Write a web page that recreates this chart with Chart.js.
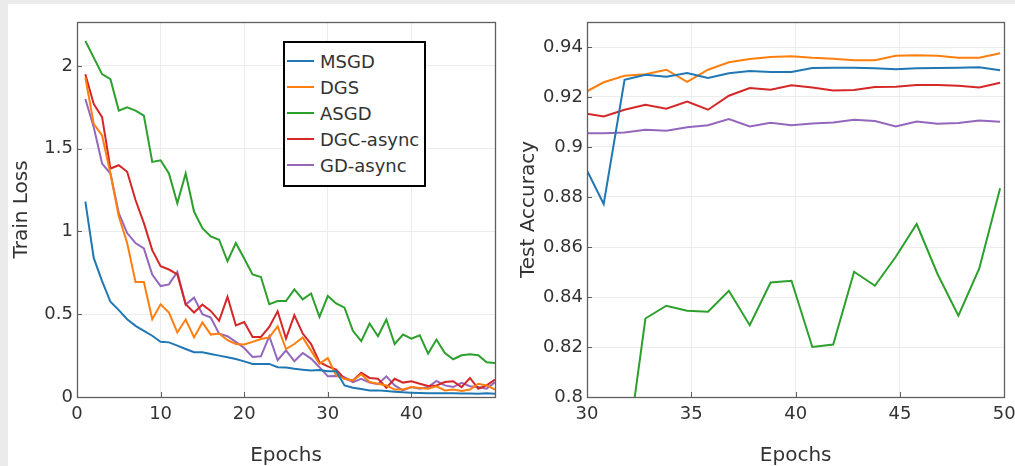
<!DOCTYPE html>
<html>
<head>
<meta charset="utf-8">
<script src="https://cdn.jsdelivr.net/npm/chart.js@4/dist/chart.umd.min.js"></script>
<style>
html,body{margin:0;padding:0;width:1015px;height:466px;overflow:hidden;background:#ebebec;}
#panel{position:absolute;left:8px;top:4px;width:1007px;height:462px;background:#fff;}
#w1{position:absolute;left:0;top:0;width:505px;height:466px;}
#w2{position:absolute;left:505px;top:0;width:540px;height:466px;}
#legend{position:absolute;left:283px;top:41px;width:139px;height:137px;border:2px solid #000;background:#fff;
  font-family:'DejaVu Sans',sans-serif;font-size:18px;color:#333;padding-top:5px;box-sizing:content-box;}
#legend .row{height:26px;display:flex;align-items:center;}
#legend .sw{width:27px;height:2px;margin-left:2px;margin-right:6px;}
</style>
</head>
<body>
<div id="panel"></div>
<div id="w1"><canvas id="c1" width="505" height="466"></canvas></div>
<div id="w2"><canvas id="c2" width="540" height="466"></canvas></div>
<div id="legend"></div>
<script>
// ---- data ----
const seriesNames = ['MSGD','DGS','ASGD','DGC-async','GD-async'];
const seriesColors = ['#1f77b4','#ff7f0e','#2ca02c','#d62728','#9467bd'];

const lossEpochs = [1,2,3,4,5,6,7,8,9,10,11,12,13,14,15,16,17,18,19,20,21,22,23,24,25,26,27,28,29,30,31,32,33,34,35,36,37,38,39,40,41,42,43,44,45,46,47,48,49,50];
const msgdLoss = [1.18,0.84,0.70,0.575,0.525,0.47,0.43,0.40,0.37,0.333,0.33,0.31,0.29,0.27,0.27,0.26,0.25,0.24,0.23,0.215,0.20,0.20,0.20,0.18,0.178,0.17,0.165,0.16,0.163,0.155,0.155,0.07,0.056,0.048,0.04,0.04,0.036,0.032,0.028,0.026,0.024,0.022,0.022,0.022,0.022,0.021,0.021,0.02,0.022,0.02];
const dgsLoss = [1.93,1.65,1.58,1.35,1.09,0.93,0.695,0.695,0.47,0.56,0.51,0.39,0.468,0.36,0.45,0.377,0.383,0.343,0.32,0.317,0.333,0.35,0.36,0.427,0.29,0.32,0.36,0.28,0.20,0.235,0.13,0.11,0.10,0.137,0.09,0.08,0.07,0.045,0.045,0.06,0.055,0.05,0.065,0.04,0.045,0.036,0.045,0.08,0.07,0.045];
const asgdLoss = [2.15,2.05,1.95,1.92,1.73,1.75,1.73,1.70,1.42,1.43,1.35,1.17,1.35,1.12,1.02,0.97,0.95,0.82,0.93,0.837,0.74,0.725,0.56,0.58,0.58,0.65,0.59,0.625,0.484,0.61,0.565,0.54,0.40,0.337,0.444,0.367,0.468,0.32,0.377,0.353,0.373,0.262,0.347,0.266,0.228,0.252,0.258,0.252,0.21,0.205];
const dgcLoss = [1.95,1.77,1.69,1.38,1.40,1.36,1.19,1.05,0.887,0.79,0.77,0.74,0.56,0.51,0.558,0.52,0.46,0.605,0.433,0.453,0.363,0.363,0.423,0.518,0.353,0.494,0.383,0.32,0.21,0.185,0.165,0.11,0.10,0.147,0.115,0.11,0.056,0.11,0.087,0.095,0.08,0.066,0.07,0.09,0.095,0.06,0.115,0.05,0.07,0.105];
const gdLoss = [1.80,1.63,1.41,1.35,1.11,0.99,0.93,0.897,0.74,0.67,0.68,0.756,0.558,0.6,0.5,0.48,0.383,0.367,0.333,0.296,0.242,0.246,0.367,0.222,0.282,0.216,0.266,0.232,0.18,0.125,0.127,0.12,0.09,0.11,0.087,0.077,0.125,0.07,0.04,0.06,0.05,0.06,0.097,0.07,0.06,0.085,0.065,0.06,0.05,0.09];

const accEpochs = [29.8,30.8,31.8,32.8,33.8,34.8,35.8,36.8,37.8,38.8,39.8,40.8,41.8,42.8,43.8,44.8,45.8,46.8,47.8,48.8,49.8];
const msgdAcc = [0.894,0.8772,0.9269,0.9289,0.9281,0.9296,0.9276,0.9295,0.9304,0.93,0.93,0.9316,0.9317,0.9317,0.9315,0.9311,0.9315,0.9316,0.9317,0.9319,0.9307];
const dgsAcc = [0.9214,0.9259,0.9285,0.9291,0.9309,0.9261,0.9309,0.9339,0.9352,0.936,0.9363,0.9357,0.9353,0.9347,0.9347,0.9365,0.9367,0.9365,0.9357,0.9357,0.9375];
const asgdAcc = [0.75,0.76,0.77,0.8314,0.8365,0.8345,0.8341,0.8425,0.8287,0.8458,0.8465,0.82,0.821,0.8501,0.8445,0.8561,0.8692,0.8492,0.8325,0.8514,0.8835];
const dgcAcc = [0.9136,0.9122,0.9149,0.9169,0.9153,0.9182,0.9149,0.9205,0.9236,0.9229,0.9247,0.9238,0.9226,0.9228,0.924,0.9241,0.9248,0.9248,0.9245,0.9238,0.9257];
const gdAcc = [0.9055,0.9055,0.9058,0.9069,0.9065,0.9079,0.9087,0.9112,0.9082,0.9097,0.9087,0.9094,0.9098,0.9109,0.9104,0.9082,0.9102,0.9093,0.9096,0.9106,0.9101];

const lossXTicks = [0,10,20,30,40];
const lossYTicks = [0,0.5,1,1.5,2];
const accXTicks = [30,35,40,45,50];
const accYTicks = [0.8,0.82,0.84,0.86,0.88,0.9,0.92,0.94];

// ---- rendering ----
Chart.defaults.font.family = "'DejaVu Sans', sans-serif";
Chart.defaults.color = '#333';

function makeSets(xs, ys){
  return ys.map((arr,i)=>({
    label: seriesNames[i],
    data: arr.map((v,j)=>({x:xs[j], y:v})),
    borderColor: seriesColors[i],
    backgroundColor: seriesColors[i],
    borderWidth: 2,
    pointRadius: 0,
    tension: 0,
    fill: false
  }));
}

const framePlugin = {
  id:'frame',
  afterDraw(chart){
    const {ctx, chartArea:a, scales} = chart;
    ctx.save();
    ctx.strokeStyle = '#5f5f5f';
    ctx.lineWidth = 1;
    ctx.beginPath();
    scales.x.ticks.forEach(t=>{
      const px = Math.round(scales.x.getPixelForValue(t.value))+0.5;
      ctx.moveTo(px, a.bottom); ctx.lineTo(px, a.bottom-5);
    });
    scales.y.ticks.forEach(t=>{
      const py = Math.round(scales.y.getPixelForValue(t.value))+0.5;
      ctx.moveTo(a.left, py); ctx.lineTo(a.left+5, py);
    });
    ctx.stroke();
    ctx.lineWidth = 1.3;
    ctx.strokeRect(Math.round(a.left)+0.5, Math.round(a.top)+0.5, Math.round(a.right-a.left), Math.round(a.bottom-a.top));
    ctx.restore();
  }
};

function makeChart(id, xs, ys, xr, yr, xt, yt, yTitle, yw, padRight, titlePad){
  return new Chart(document.getElementById(id), {
    type:'line',
    data:{datasets: makeSets(xs, ys)},
    plugins:[framePlugin],
    options:{
      responsive:false,
      animation:false,
      layout:{padding:{left:0,right:padRight,top:22,bottom:0}},
      plugins:{legend:{display:false}, tooltip:{enabled:false}},
      scales:{
        x:{
          type:'linear', min:xr[0], max:xr[1],
          afterBuildTicks(s){ s.ticks = xt.map(v=>({value:v})); },
          afterFit(s){ s.height = 69; },
          ticks:{font:{size:18}, color:'#333', padding:7, maxRotation:0, callback:v=>String(v)},
          grid:{color:'#ececec', drawTicks:false},
          border:{display:false},
          title:{display:true, text:'Epochs', color:'#333', font:{size:20, lineHeight:1.0}, padding:{top:0,bottom:0}}
        },
        y:{
          type:'linear', min:yr[0], max:yr[1],
          afterBuildTicks(s){ s.ticks = yt.map(v=>({value:v})); },
          afterFit(s){ s.width = yw; },
          ticks:{font:{size:18}, color:'#333', padding:4, callback:v=>String(v)},
          grid:{color:'#ececec', drawTicks:false},
          border:{display:false},
          title:{display:true, text:yTitle, color:'#333', font:{size:20, lineHeight:1.2}, padding:{top:titlePad,bottom:0}}
        }
      }
    }
  });
}

makeChart('c1', lossEpochs, [msgdLoss,dgsLoss,asgdLoss,dgcLoss,gdLoss], [0,50], [0,2.265], lossXTicks, lossYTicks, 'Train Loss', 77, 10, 10);
makeChart('c2', accEpochs, [msgdAcc,dgsAcc,asgdAcc,dgcAcc,gdAcc], [30,50], [0.8,0.95], accXTicks, accYTicks, 'Test Accuracy', 82, 40.7, 12);

// legend
const lg = document.getElementById('legend');
seriesNames.forEach((n,i)=>{
  const r = document.createElement('div'); r.className='row';
  const sw = document.createElement('span'); sw.className='sw'; sw.style.background = seriesColors[i];
  const t = document.createElement('span'); t.textContent = n;
  r.appendChild(sw); r.appendChild(t); lg.appendChild(r);
});
</script>
</body>
</html>
